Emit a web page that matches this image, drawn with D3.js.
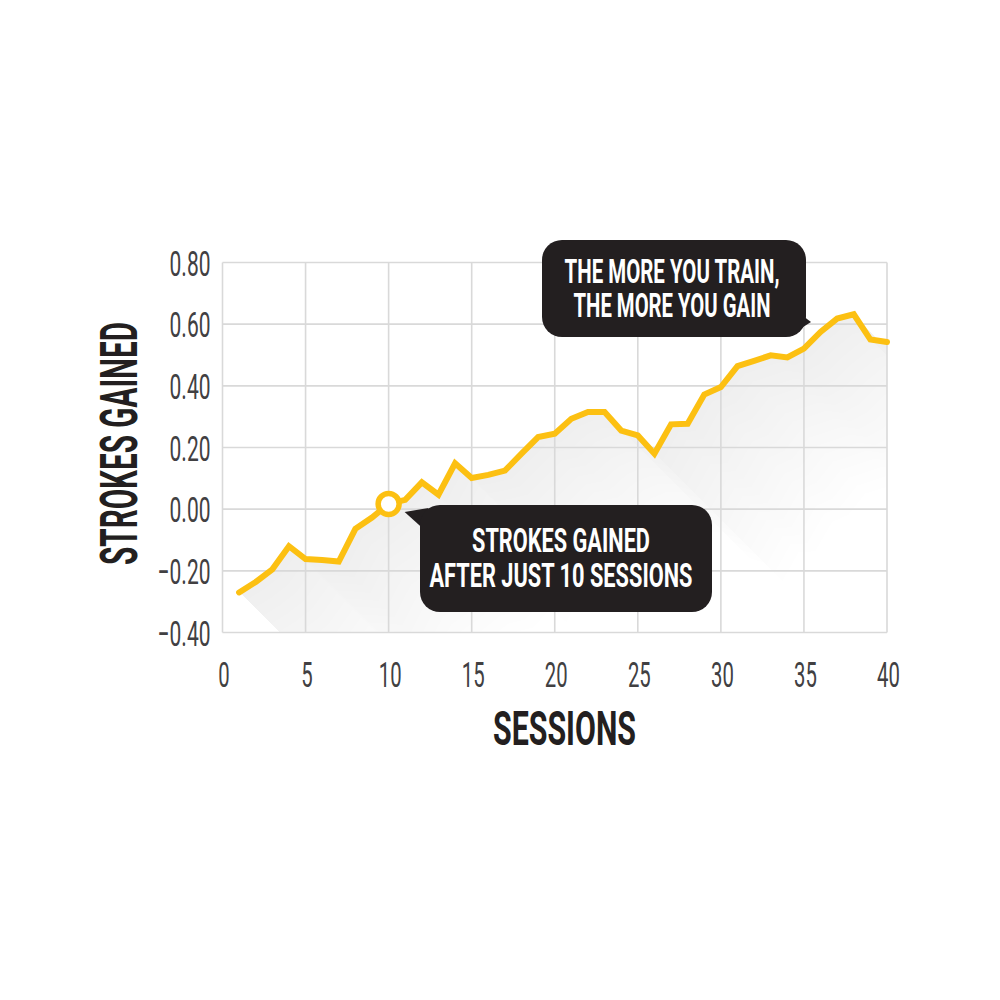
<!DOCTYPE html>
<html>
<head>
<meta charset="utf-8">
<script src="https://cdn.jsdelivr.net/npm/d3@7"></script>
<style>
  body { margin: 0; background: #fff; }
  text { font-family: Roboto, "Liberation Sans", sans-serif; }
</style>
</head>
<body>
<div id="chart"></div>
<script>
// Data
var sessions = [1, 2, 3, 4, 5, 6, 7, 8, 9, 10,
  11, 12, 13, 14, 15, 16, 17, 18, 19, 20,
  21, 22, 23, 24, 25, 26, 27, 28, 29, 30,
  31, 32, 33, 34, 35, 36, 37, 38, 39, 40];
var strokesGained = [-0.27, -0.236, -0.195, -0.12, -0.162, -0.165, -0.17, -0.064, -0.027, 0.017,
  0.03, 0.087, 0.047, 0.149, 0.101, 0.111, 0.125, 0.18, 0.234, 0.245,
  0.293, 0.315, 0.315, 0.255, 0.239, 0.18, 0.275, 0.277, 0.372, 0.396,
  0.464, 0.481, 0.499, 0.492, 0.521, 0.575, 0.618, 0.632, 0.55, 0.542];
var xTicks = [0, 5, 10, 15, 20, 25, 30, 35, 40];
var yTicks = [-0.4, -0.2, 0, 0.2, 0.4, 0.6, 0.8];
var highlightSession = 10;
var noteEarly = ["STROKES GAINED", "AFTER JUST 10 SESSIONS"];
var noteLate = ["THE MORE YOU TRAIN,", "THE MORE YOU GAIN"];

// SVG size and chart margins
var svgWidth = 1000;
var svgHeight = 1000;
var chartMargin = { top: 262.5, right: 113, bottom: 367.5, left: 222.5 };
var chartWidth = svgWidth - chartMargin.left - chartMargin.right;
var chartHeight = svgHeight - chartMargin.top - chartMargin.bottom;

var yellow = "#fcc012";
var dark = "#231f20";
var gridColor = "#d9d9d9";

var svg = d3.select("#chart")
  .append("svg")
  .attr("width", svgWidth)
  .attr("height", svgHeight);

var chartGroup = svg.append("g")
  .attr("transform", `translate(${chartMargin.left}, ${chartMargin.top})`);

// scales
var xScale = d3.scaleLinear().domain([0, 40]).range([0, chartWidth]);
var yScale = d3.scaleLinear().domain([-0.4, 0.8]).range([chartHeight, 0]);

var points = sessions.map(function(s, i) { return { s: s, v: strokesGained[i] }; });

var line = d3.line()
  .x(d => xScale(d.s))
  .y(d => yScale(d.v));

// long shadow: the line swept down-right, layered so it fades with distance
svg.append("defs").append("clipPath")
  .attr("id", "plotClip")
  .append("rect")
  .attr("width", chartWidth)
  .attr("height", chartHeight);

var shadowGroup = chartGroup.append("g").attr("clip-path", "url(#plotClip)");
var px = points.map(d => [xScale(d.s), yScale(d.v)]);
function sweptPath(k) {
  var parts = [];
  for (var i = 0; i < px.length - 1; i++) {
    var a = px[i], b = px[i + 1];
    var quad = [a, b, [b[0] + k, b[1] + k], [a[0] + k, a[1] + k]];
    if (d3.polygonArea(quad) < 0) quad.reverse();
    parts.push("M" + quad.map(p => p[0] + "," + p[1]).join("L") + "Z");
  }
  return parts.join("");
}
for (var k = 8; k <= 128; k += 8) {
  shadowGroup.append("path")
    .attr("d", sweptPath(k))
    .attr("fill", "#000")
    .attr("fill-rule", "nonzero")
    .attr("fill-opacity", 0.0042);
}

// grid lines
chartGroup.append("g")
  .selectAll("line")
  .data(xTicks)
  .enter()
  .append("line")
  .attr("x1", d => xScale(d))
  .attr("x2", d => xScale(d))
  .attr("y1", 0)
  .attr("y2", chartHeight)
  .attr("stroke", gridColor)
  .attr("stroke-width", 1.6);

chartGroup.append("g")
  .selectAll("line")
  .data(yTicks)
  .enter()
  .append("line")
  .attr("x1", 0)
  .attr("x2", chartWidth)
  .attr("y1", d => yScale(d))
  .attr("y2", d => yScale(d))
  .attr("stroke", gridColor)
  .attr("stroke-width", 1.6);

// axes (labels only)
var bottomAxis = d3.axisBottom(xScale).tickValues(xTicks).tickSize(0).tickFormat(d3.format("d"));
var leftAxis = d3.axisLeft(yScale).tickValues(yTicks).tickSize(0).tickFormat(d3.format(".2f"));

var xAxisG = chartGroup.append("g")
  .attr("transform", `translate(0, ${chartHeight})`)
  .call(bottomAxis);
xAxisG.select(".domain").remove();
xAxisG.selectAll("text")
  .attr("x", 0)
  .attr("y", 0)
  .attr("dy", null)
  .attr("transform", "translate(1, 54.5) scale(0.58, 1)")
  .attr("fill", "#414042")
  .style("font-size", "35px")
  .style("font-family", "Roboto, sans-serif");

var yAxisG = chartGroup.append("g").call(leftAxis);
yAxisG.select(".domain").remove();
yAxisG.selectAll("text")
  .attr("x", 0)
  .attr("y", 0)
  .attr("dy", null)
  .attr("transform", "translate(-12, 12.5) scale(0.6, 1)")
  .attr("fill", "#414042")
  .style("font-size", "35px")
  .style("font-family", "Roboto, sans-serif");

// the line
chartGroup.append("path")
  .datum(points)
  .attr("d", line)
  .attr("fill", "none")
  .attr("stroke", yellow)
  .attr("stroke-width", 6)
  .attr("stroke-linecap", "round")
  .attr("stroke-linejoin", "miter");

// marker at session 10
var hp = points.find(d => d.s === highlightSession);
var hx = xScale(hp.s);
var hy = yScale(hp.v);
chartGroup.append("circle")
  .attr("cx", hx)
  .attr("cy", hy)
  .attr("r", 10.5)
  .attr("fill", "#fff")
  .attr("stroke", yellow)
  .attr("stroke-width", 5.5);

// callout 1
var c1 = chartGroup.append("g");
c1.append("path")
  .attr("d", `M${hx + 16},${hy + 8} L${hx + 40},${hy + 4} L${hx + 36},${hy + 26} Z`)
  .attr("fill", dark);
c1.append("rect")
  .attr("x", 420 - chartMargin.left)
  .attr("y", 505 - chartMargin.top)
  .attr("width", 292)
  .attr("height", 107)
  .attr("rx", 20)
  .attr("fill", dark);
c1.selectAll("text")
  .data(noteEarly)
  .enter()
  .append("text")
  .attr("x", 561 - chartMargin.left)
  .attr("y", (d, i) => 552 - chartMargin.top + i * 35)
  .attr("text-anchor", "middle")
  .attr("textLength", (d, i) => i === 0 ? 178 : 263)
  .attr("lengthAdjust", "spacingAndGlyphs")
  .attr("fill", "#fff")
  .style("font-size", "34px")
  .style("font-weight", "bold")
  .text(d => d);

// callout 2
var c2 = chartGroup.append("g");
c2.append("path")
  .attr("d", `M${795 - chartMargin.left},${310 - chartMargin.top} L${811 - chartMargin.left},${322 - chartMargin.top} L${792 - chartMargin.left},${334 - chartMargin.top} Z`)
  .attr("fill", dark);
c2.append("rect")
  .attr("x", 542 - chartMargin.left)
  .attr("y", 240 - chartMargin.top)
  .attr("width", 264)
  .attr("height", 97)
  .attr("rx", 20)
  .attr("fill", dark);
c2.selectAll("text")
  .data(noteLate)
  .enter()
  .append("text")
  .attr("x", 672 - chartMargin.left)
  .attr("y", (d, i) => 283 - chartMargin.top + i * 34)
  .attr("text-anchor", "middle")
  .attr("textLength", (d, i) => i === 0 ? 215 : 197)
  .attr("lengthAdjust", "spacingAndGlyphs")
  .attr("fill", "#fff")
  .style("font-size", "34px")
  .style("font-weight", "bold")
  .text(d => d);

// axis titles
svg.append("text")
  .attr("x", 564.5)
  .attr("y", 745)
  .attr("text-anchor", "middle")
  .attr("textLength", 143)
  .attr("lengthAdjust", "spacingAndGlyphs")
  .attr("fill", dark)
  .style("font-size", "49px")
  .style("font-weight", "bold")
  .text("SESSIONS");

svg.append("text")
  .attr("transform", "translate(137, 443.5) rotate(-90)")
  .attr("text-anchor", "middle")
  .attr("textLength", 243)
  .attr("lengthAdjust", "spacingAndGlyphs")
  .attr("fill", dark)
  .style("font-size", "52px")
  .style("font-weight", "bold")
  .text("STROKES GAINED");
</script>
</body>
</html>
